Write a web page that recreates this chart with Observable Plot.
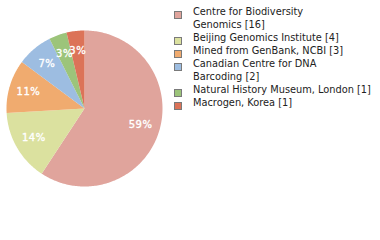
<!DOCTYPE html>
<html>
<head>
<meta charset="utf-8">
<script src="https://cdn.jsdelivr.net/npm/d3@7"></script>
<script src="https://cdn.jsdelivr.net/npm/@observablehq/plot@0.6"></script>
<style>
  html, body { margin: 0; padding: 0; background: #fff; }
  #wrap { position: relative; width: 380px; height: 240px; overflow: hidden; }
  #legend { position: absolute; left: 174px; top: 5px; font-family: "DejaVu Sans", Verdana, sans-serif; font-size: 9.8px; color: #222; line-height: 13px; }
  .item { position: relative; padding-left: 19px; margin-bottom: 0px; }
  .sw { position: absolute; left: 0; top: 6px; width: 6px; height: 6px; border: 1px solid #7a7a7a; }
</style>
</head>
<body>
<div id="wrap"><div id="chart"></div><div id="legend"></div></div>
<script>
const names = ["Centre for Biodiversity Genomics", "Beijing Genomics Institute", "Mined from GenBank, NCBI", "Canadian Centre for DNA Barcoding", "Natural History Museum, London", "Macrogen, Korea"];
const legendLines = [["Centre for Biodiversity", "Genomics [16]"], ["Beijing Genomics Institute [4]"], ["Mined from GenBank, NCBI [3]"], ["Canadian Centre for DNA", "Barcoding [2]"], ["Natural History Museum, London [1]"], ["Macrogen, Korea [1]"]];
const counts = [16, 4, 3, 2, 1, 1];
const colors = ["#e0a49c", "#dbe19f", "#f0ab6f", "#9dbde1", "#9cc47a", "#dc7358"];

const total = d3.sum(counts);
const arcs = d3.pie().sort(null).value(d => d)(counts);
const pts = [];
const labels = [];
arcs.forEach((a, i) => {
  const n = Math.max(2, Math.ceil((a.endAngle - a.startAngle) * 60));
  pts.push({name: names[i], x: 0, y: 0});
  for (let k = 0; k <= n; k++) {
    const t = a.startAngle + (a.endAngle - a.startAngle) * k / n;
    pts.push({name: names[i], x: Math.sin(t), y: Math.cos(t)});
  }
  pts.push({name: names[i], x: 0, y: 0});
  const m = (a.startAngle + a.endAngle) / 2;
  labels.push({x: 0.75 * Math.sin(m), y: 0.75 * Math.cos(m), text: Math.floor(counts[i] / total * 100) + "%"});
});

const chart = Plot.plot({
  width: 380,
  height: 240,
  margin: 0,
  x: {domain: [-1, 1], range: [6, 162], axis: null},
  y: {domain: [-1, 1], range: [186, 30], axis: null},
  color: {domain: names, range: colors},
  style: {fontFamily: "'DejaVu Sans', Verdana, sans-serif", background: "transparent"},
  marks: [
    Plot.line(pts, {x: "x", y: "y", z: "name", fill: "name", stroke: "none"}),
    Plot.text(labels, {x: "x", y: "y", text: "text", fill: "white", stroke: "white", strokeWidth: 0.35, fontSize: 10})
  ]
});
document.getElementById("chart").appendChild(chart);
chart.querySelectorAll("text").forEach(t => t.setAttribute("letter-spacing", "0.5"));

const lg = document.getElementById("legend");
legendLines.forEach((lines, i) => {
  const it = document.createElement("div");
  it.className = "item";
  const sw = document.createElement("span");
  sw.className = "sw";
  sw.style.background = colors[i];
  it.appendChild(sw);
  lines.forEach(l => { const d = document.createElement("div"); d.textContent = l; it.appendChild(d); });
  lg.appendChild(it);
});
</script>
</body>
</html>
